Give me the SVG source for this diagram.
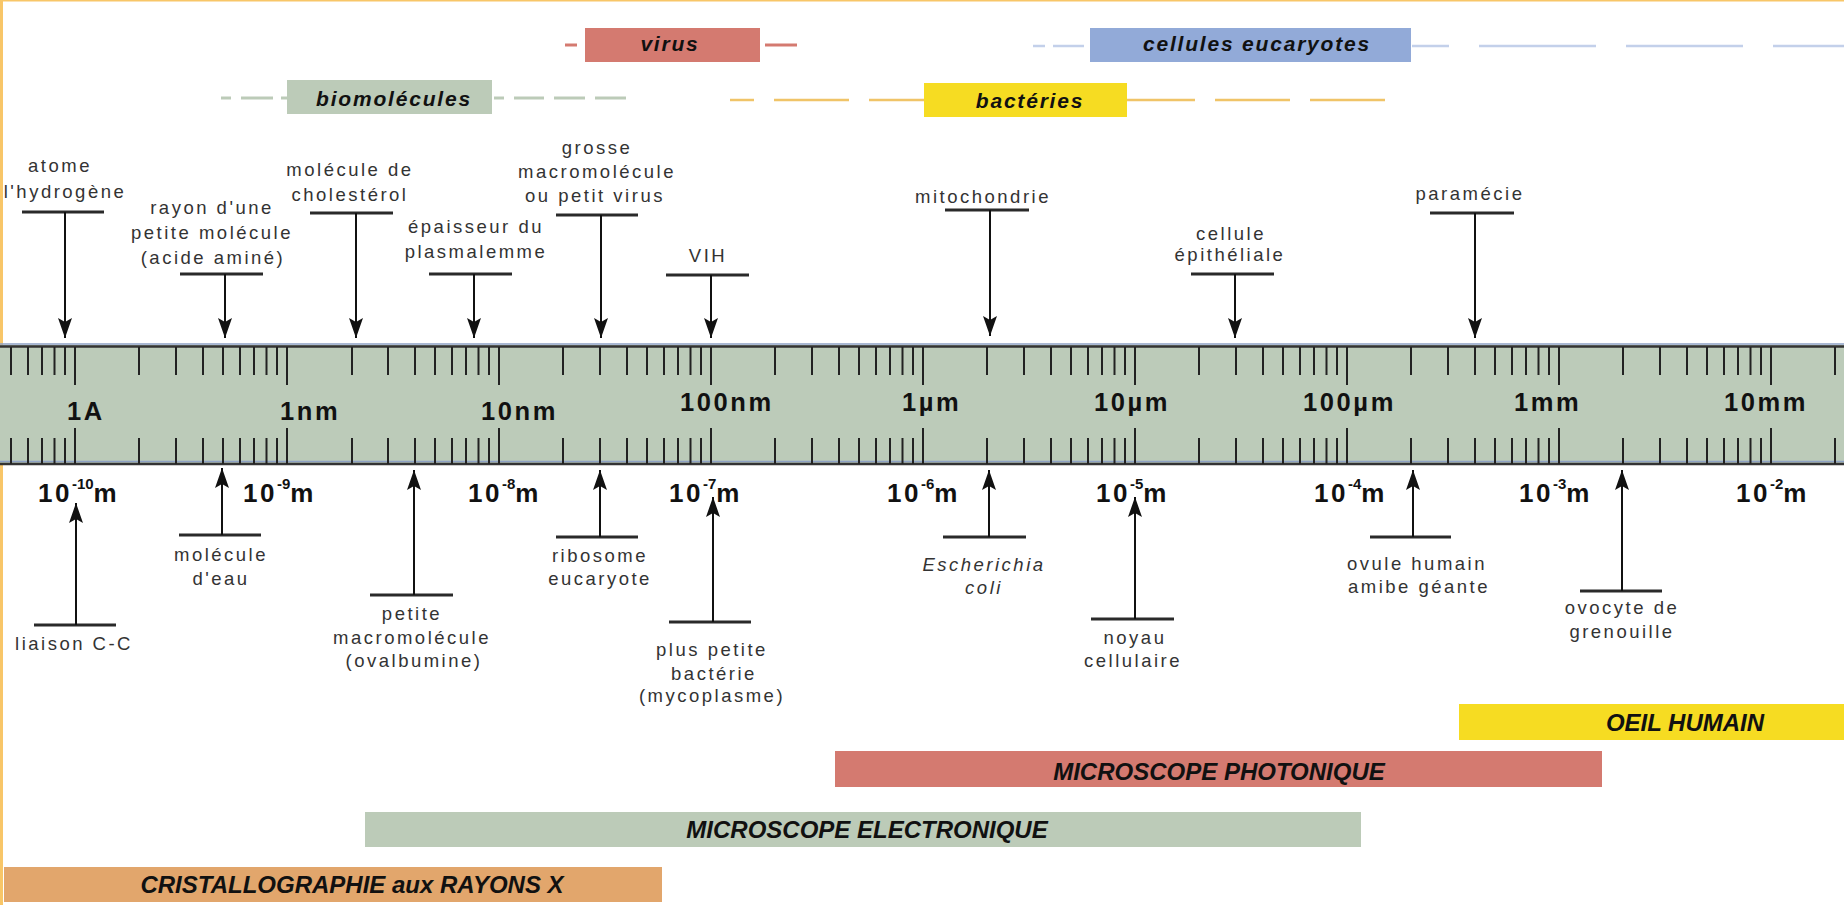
<svg xmlns="http://www.w3.org/2000/svg" width="1844" height="905" viewBox="0 0 1844 905">
<style>
.lbl{font-family:"Liberation Sans",Arial,sans-serif;font-size:18.5px;fill:#333;letter-spacing:2.5px;text-anchor:middle}
.it{font-style:italic}
.unit{font-family:"Liberation Sans",Arial,sans-serif;font-weight:bold;font-size:25.5px;fill:#111;letter-spacing:2.6px}
.pw{font-family:"Liberation Sans",Arial,sans-serif;font-weight:bold;font-size:26px;fill:#111;letter-spacing:2.5px}
.sup{font-size:15px;letter-spacing:0}
.cat{font-family:"Liberation Sans",Arial,sans-serif;font-weight:bold;font-style:italic;font-size:21px;fill:#111;letter-spacing:1.8px;text-anchor:middle}
.meth{font-family:"Liberation Sans",Arial,sans-serif;font-weight:bold;font-style:italic;font-size:24px;fill:#111;text-anchor:middle}
.cap{stroke:#2a2a2a;stroke-width:3}
.arr{stroke:#111;stroke-width:2;fill:none;marker-end:url(#ah)}
.tk{stroke:#222;stroke-width:2}
.dg{stroke:#bccbb8;stroke-width:3}
.dr{stroke:#d47a70;stroke-width:3}
.dy{stroke:#f0c468;stroke-width:2.5}
.db{stroke:#c3d0ea;stroke-width:2.5}
</style>
<defs>
<marker id="ah" markerUnits="userSpaceOnUse" markerWidth="22" markerHeight="16" refX="20" refY="7" orient="auto"><path d="M0,0 L20,7 L0,14 L4,7 z" fill="#111"/></marker>
</defs>
<rect x="0" y="0" width="1844" height="905" fill="#fff"/>
<rect x="0" y="0" width="1844" height="1.5" fill="#f8c668"/>
<rect x="0" y="0" width="3" height="905" fill="#f8c668"/>

<g id="categories">
<g id="cat-virus">
<line class="dr" x1="565" y1="45" x2="577" y2="45"/><line class="dr" x1="765" y1="45" x2="797" y2="45"/>
<rect x="585" y="28" width="175" height="34" fill="#d47a70"/>
<text class="cat" x="670" y="51">virus</text>
</g>
<g id="cat-eucaryotes">
<line class="db" x1="1033" y1="46" x2="1045" y2="46"/><line class="db" x1="1053" y1="46" x2="1084" y2="46"/>
<line class="db" x1="1412" y1="46" x2="1449" y2="46"/><line class="db" x1="1479" y1="46" x2="1596" y2="46"/>
<line class="db" x1="1626" y1="46" x2="1743" y2="46"/><line class="db" x1="1773" y1="46" x2="1844" y2="46"/>
<rect x="1090" y="28" width="321" height="34" fill="#92aad8"/>
<text class="cat" x="1257" y="51">cellules eucaryotes</text>
</g>
<g id="cat-biomolecules">
<line class="dg" x1="221" y1="98" x2="231" y2="98"/><line class="dg" x1="241" y1="98" x2="273" y2="98"/><line class="dg" x1="281" y1="98" x2="287" y2="98"/>
<line class="dg" x1="494" y1="98" x2="504" y2="98"/><line class="dg" x1="514" y1="98" x2="544" y2="98"/><line class="dg" x1="554" y1="98" x2="585" y2="98"/><line class="dg" x1="595" y1="98" x2="626" y2="98"/>
<rect x="287" y="80" width="205" height="34" fill="#bccbb8"/>
<text class="cat" x="394" y="106">biomolécules</text>
</g>
<g id="cat-bacteries">
<line class="dy" x1="730" y1="100" x2="754" y2="100"/><line class="dy" x1="774" y1="100" x2="849" y2="100"/><line class="dy" x1="869" y1="100" x2="924" y2="100"/>
<line class="dy" x1="1127" y1="100" x2="1195" y2="100"/><line class="dy" x1="1215" y1="100" x2="1290" y2="100"/><line class="dy" x1="1310" y1="100" x2="1385" y2="100"/>
<rect x="924" y="83" width="203" height="34" fill="#f6dc22"/>
<text class="cat" x="1030" y="108">bactéries</text>
</g>
</g>

<g id="ruler">
<rect x="0" y="345" width="1844" height="119" fill="#bccbb9"/>
<line x1="0" y1="344" x2="1844" y2="344" stroke="#8da0c4" stroke-width="1.5"/>
<line x1="0" y1="346.5" x2="1844" y2="346.5" stroke="#333" stroke-width="2.5"/>
<line x1="0" y1="461.5" x2="1844" y2="461.5" stroke="#8da0c4" stroke-width="1.5"/>
<line x1="0" y1="464" x2="1844" y2="464" stroke="#333" stroke-width="2.5"/>
<path class="tk" d="
M11,347V375M28,347V375M42,347V375M54.5,347V375M65,347V375
M139,347V375M176,347V375M203,347V375M223,347V375M240,347V375M254,347V375M266.5,347V375M277,347V375
M352,347V375M388,347V375M415,347V375M435,347V375M452,347V375M466,347V375M478.5,347V375M489,347V375
M563,347V375M600,347V375M627,347V375M647,347V375M664,347V375M678,347V375M690.5,347V375M701,347V375
M775,347V375M812,347V375M839,347V375M859,347V375M876,347V375M890,347V375M902.5,347V375M913,347V375
M987,347V375M1024,347V375M1051,347V375M1071,347V375M1088,347V375M1102,347V375M1114.5,347V375M1125,347V375
M1199,347V375M1236,347V375M1263,347V375M1283,347V375M1300,347V375M1314,347V375M1326.5,347V375M1337,347V375
M1411,347V375M1448,347V375M1475,347V375M1495,347V375M1512,347V375M1526,347V375M1538.5,347V375M1549,347V375
M1623,347V375M1660,347V375M1687,347V375M1707,347V375M1724,347V375M1738,347V375M1750.5,347V375M1761,347V375
M1835,347V375
M75,347V385M287,347V385M499,347V385M711,347V385M923,347V385M1135,347V385M1347,347V385M1559,347V385M1771,347V385
M11,438V464M28,438V464M42,438V464M54.5,438V464M65,438V464
M139,438V464M176,438V464M203,438V464M223,438V464M240,438V464M254,438V464M266.5,438V464M277,438V464
M352,438V464M388,438V464M415,438V464M435,438V464M452,438V464M466,438V464M478.5,438V464M489,438V464
M563,438V464M600,438V464M627,438V464M647,438V464M664,438V464M678,438V464M690.5,438V464M701,438V464
M775,438V464M812,438V464M839,438V464M859,438V464M876,438V464M890,438V464M902.5,438V464M913,438V464
M987,438V464M1024,438V464M1051,438V464M1071,438V464M1088,438V464M1102,438V464M1114.5,438V464M1125,438V464
M1199,438V464M1236,438V464M1263,438V464M1283,438V464M1300,438V464M1314,438V464M1326.5,438V464M1337,438V464
M1411,438V464M1448,438V464M1475,438V464M1495,438V464M1512,438V464M1526,438V464M1538.5,438V464M1549,438V464
M1623,438V464M1660,438V464M1687,438V464M1707,438V464M1724,438V464M1738,438V464M1750.5,438V464M1761,438V464
M1835,438V464
M75,428V464M287,428V464M499,428V464M711,428V464M923,428V464M1135,428V464M1347,428V464M1559,428V464M1771,428V464"/>
<text class="unit" x="67" y="420">1A</text>
<text class="unit" x="280" y="420">1nm</text>
<text class="unit" x="481" y="420">10nm</text>
<text class="unit" x="680" y="411">100nm</text>
<text class="unit" x="902" y="411">1µm</text>
<text class="unit" x="1094" y="411">10µm</text>
<text class="unit" x="1303" y="411">100µm</text>
<text class="unit" x="1514" y="411">1mm</text>
<text class="unit" x="1724" y="411">10mm</text>
</g>

<g id="powers">
<text class="pw" x="38" y="502">10<tspan class="sup" dy="-13">-10</tspan><tspan dy="13">m</tspan></text>
<text class="pw" x="243" y="502">10<tspan class="sup" dy="-13">-9</tspan><tspan dy="13">m</tspan></text>
<text class="pw" x="468" y="502">10<tspan class="sup" dy="-13">-8</tspan><tspan dy="13">m</tspan></text>
<text class="pw" x="669" y="502">10<tspan class="sup" dy="-13">-7</tspan><tspan dy="13">m</tspan></text>
<text class="pw" x="887" y="502">10<tspan class="sup" dy="-13">-6</tspan><tspan dy="13">m</tspan></text>
<text class="pw" x="1096" y="502">10<tspan class="sup" dy="-13">-5</tspan><tspan dy="13">m</tspan></text>
<text class="pw" x="1314" y="502">10<tspan class="sup" dy="-13">-4</tspan><tspan dy="13">m</tspan></text>
<text class="pw" x="1519" y="502">10<tspan class="sup" dy="-13">-3</tspan><tspan dy="13">m</tspan></text>
<text class="pw" x="1736" y="502">10<tspan class="sup" dy="-13">-2</tspan><tspan dy="13">m</tspan></text>
</g>

<g id="n-hydrogene"><text class="lbl" x="60" y="172">atome</text><text class="lbl" x="65" y="198">l'hydrogène</text><line class="cap" x1="22" y1="212" x2="104" y2="212"/></g>
<g id="n-acide"><text class="lbl" x="212" y="214">rayon d'une</text><text class="lbl" x="212" y="239">petite molécule</text><text class="lbl" x="213" y="264">(acide aminé)</text><line class="cap" x1="180" y1="274" x2="263" y2="274"/></g>
<g id="n-cholesterol"><text class="lbl" x="350" y="176">molécule de</text><text class="lbl" x="350" y="201">cholestérol</text><line class="cap" x1="310" y1="213" x2="393" y2="213"/></g>
<g id="n-plasmalemme"><text class="lbl" x="476" y="233">épaisseur du</text><text class="lbl" x="476" y="258">plasmalemme</text><line class="cap" x1="429" y1="274" x2="512" y2="274"/></g>
<g id="n-grosse"><text class="lbl" x="597" y="154">grosse</text><text class="lbl" x="597" y="178">macromolécule</text><text class="lbl" x="595" y="202">ou petit virus</text><line class="cap" x1="556" y1="215" x2="638" y2="215"/></g>
<g id="n-vih"><text class="lbl" x="708" y="262">VIH</text><line class="cap" x1="666" y1="275" x2="749" y2="275"/></g>
<g id="n-mito"><text class="lbl" x="983" y="203">mitochondrie</text><line class="cap" x1="945" y1="210" x2="1029" y2="210"/></g>
<g id="n-epith"><text class="lbl" x="1231" y="240">cellule</text><text class="lbl" x="1230" y="261">épithéliale</text><line class="cap" x1="1191" y1="274" x2="1274" y2="274"/></g>
<g id="n-paramecie"><text class="lbl" x="1470" y="200">paramécie</text><line class="cap" x1="1430" y1="213" x2="1514" y2="213"/></g>

<g id="n-liaison"><line class="cap" x1="34" y1="625" x2="116" y2="625"/><text class="lbl" x="74" y="650">liaison C-C</text></g>
<g id="n-eau"><line class="cap" x1="179" y1="535" x2="261" y2="535"/><text class="lbl" x="221" y="561">molécule</text><text class="lbl" x="221" y="585">d'eau</text></g>
<g id="n-ovalbumine"><line class="cap" x1="370" y1="595" x2="453" y2="595"/><text class="lbl" x="412" y="620">petite</text><text class="lbl" x="412" y="644">macromolécule</text><text class="lbl" x="414" y="667">(ovalbumine)</text></g>
<g id="n-ribosome"><line class="cap" x1="556" y1="537" x2="638" y2="537"/><text class="lbl" x="600" y="562">ribosome</text><text class="lbl" x="600" y="585">eucaryote</text></g>
<g id="n-mycoplasme"><line class="cap" x1="669" y1="622" x2="751" y2="622"/><text class="lbl" x="712" y="656">plus petite</text><text class="lbl" x="714" y="680">bactérie</text><text class="lbl" x="712" y="702">(mycoplasme)</text></g>
<g id="n-ecoli"><line class="cap" x1="943" y1="537" x2="1026" y2="537"/><text class="lbl it" x="984" y="571">Escherichia</text><text class="lbl it" x="984" y="594">coli</text></g>
<g id="n-noyau"><line class="cap" x1="1091" y1="619" x2="1174" y2="619"/><text class="lbl" x="1135" y="644">noyau</text><text class="lbl" x="1133" y="667">cellulaire</text></g>
<g id="n-ovule"><line class="cap" x1="1370" y1="537" x2="1451" y2="537"/><text class="lbl" x="1417" y="570">ovule humain</text><text class="lbl" x="1419" y="593">amibe géante</text></g>
<g id="n-ovocyte"><line class="cap" x1="1580" y1="591" x2="1662" y2="591"/><text class="lbl" x="1622" y="614">ovocyte de</text><text class="lbl" x="1622" y="638">grenouille</text></g>

<g id="connectors">
<line class="arr" x1="65" y1="212" x2="65" y2="338"/>
<line class="arr" x1="225" y1="274" x2="225" y2="338"/>
<line class="arr" x1="356" y1="213" x2="356" y2="338"/>
<line class="arr" x1="474" y1="274" x2="474" y2="338"/>
<line class="arr" x1="601" y1="215" x2="601" y2="338"/>
<line class="arr" x1="711" y1="275" x2="711" y2="338"/>
<line class="arr" x1="990" y1="210" x2="990" y2="336"/>
<line class="arr" x1="1235" y1="274" x2="1235" y2="338"/>
<line class="arr" x1="1475" y1="213" x2="1475" y2="338"/>
<line class="arr" x1="76" y1="625" x2="76" y2="503"/>
<line class="arr" x1="222" y1="535" x2="222" y2="468"/>
<line class="arr" x1="414" y1="595" x2="414" y2="470"/>
<line class="arr" x1="600" y1="537" x2="600" y2="470"/>
<line class="arr" x1="713" y1="622" x2="713" y2="497"/>
<line class="arr" x1="989" y1="537" x2="989" y2="470"/>
<line class="arr" x1="1135" y1="619" x2="1135" y2="497"/>
<line class="arr" x1="1413" y1="537" x2="1413" y2="470"/>
<line class="arr" x1="1622" y1="591" x2="1622" y2="470"/>
</g>

<g id="methods">
<g id="m-oeil"><rect x="1459" y="704" width="385" height="36" fill="#f6dc22"/><text class="meth" x="1685" y="731">OEIL HUMAIN</text></g>
<g id="m-photon"><rect x="835" y="751" width="767" height="36" fill="#d47a70"/><text class="meth" x="1219" y="780">MICROSCOPE PHOTONIQUE</text></g>
<g id="m-electron"><rect x="365" y="812" width="996" height="35" fill="#bccbb8"/><text class="meth" x="867" y="838">MICROSCOPE ELECTRONIQUE</text></g>
<g id="m-cristallo"><rect x="4" y="867" width="658" height="35" fill="#e2a66c"/><text class="meth" x="352" y="893">CRISTALLOGRAPHIE aux RAYONS X</text></g>
</g>
</svg>
